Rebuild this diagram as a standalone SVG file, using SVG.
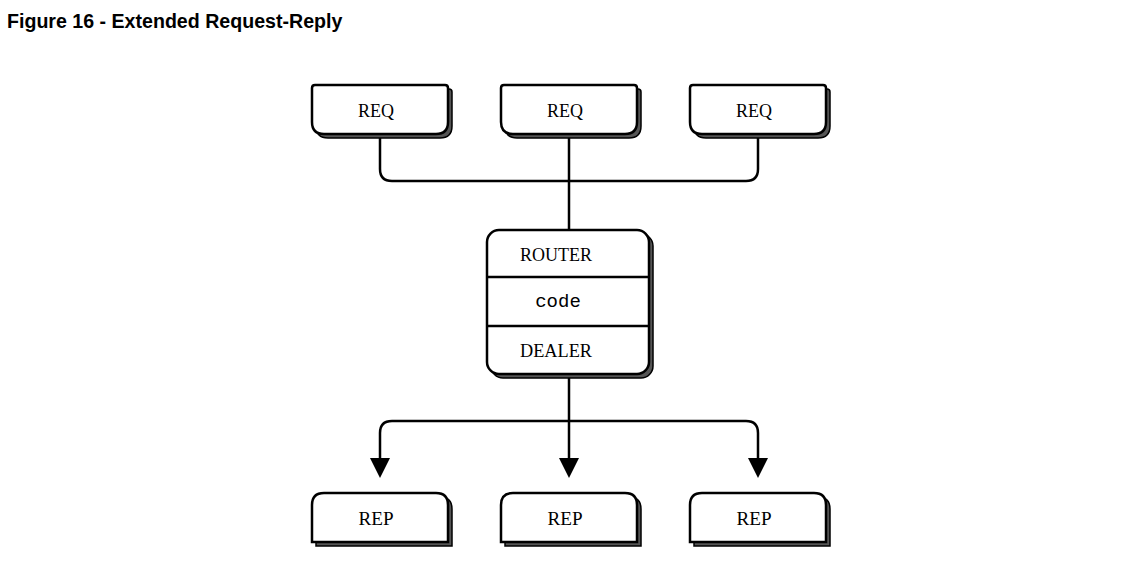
<svg xmlns="http://www.w3.org/2000/svg" width="1121" height="574" viewBox="0 0 1121 574">
<style>
.box{fill:#fff;stroke:#000;stroke-width:2.5}
.shadow{fill:#555;stroke:#000;stroke-width:1.5}
.lbl{font-family:"Liberation Serif","Times New Roman",serif;font-size:19px;fill:#000;text-anchor:middle}
.mono{font-family:"Liberation Mono","Courier New",monospace;font-size:19px;fill:#000;text-anchor:middle}
.line{fill:none;stroke:#000;stroke-width:2.5}
.title{font-family:"Liberation Sans",Arial,sans-serif;font-weight:bold;font-size:19.6px;fill:#000}
</style>
<defs>
<path id="reqShape" d="M312,88 Q312,85 315,85 H445 Q448,85 448,88 V122 Q448,134 436,134 H324 Q312,134 312,122 Z"/>
<path id="repShape" d="M312,505 Q312,493 324,493 H436 Q448,493 448,505 V542 H312 Z"/>
</defs>
<rect width="1121" height="574" fill="#fff"/>
<text class="title" x="7" y="28">Figure 16 - Extended Request-Reply</text>

<g id="connectors">
<path class="line" d="M380,134 V169 Q380,181 392,181 H746 Q758,181 758,169 V134"/>
<path class="line" d="M569,134 V230"/>
<path class="line" d="M569,374 V460"/>
<path class="line" d="M380,460 V433 Q380,421 392,421 H746 Q758,421 758,433 V460"/>
<polygon points="370,458 390,458 380,478" fill="#000"/>
<polygon points="559,458 579,458 569,478" fill="#000"/>
<polygon points="748,458 768,458 758,478" fill="#000"/>
</g>

<g id="req1">
<use href="#reqShape" class="shadow" transform="translate(4,4)"/>
<use href="#reqShape" class="box"/>
<text class="lbl" x="376" y="117" textLength="36" lengthAdjust="spacingAndGlyphs">REQ</text>
</g>
<g id="req2" transform="translate(189,0)">
<use href="#reqShape" class="shadow" transform="translate(4,4)"/>
<use href="#reqShape" class="box"/>
<text class="lbl" x="376" y="117" textLength="36" lengthAdjust="spacingAndGlyphs">REQ</text>
</g>
<g id="req3" transform="translate(378,0)">
<use href="#reqShape" class="shadow" transform="translate(4,4)"/>
<use href="#reqShape" class="box"/>
<text class="lbl" x="376" y="117" textLength="36" lengthAdjust="spacingAndGlyphs">REQ</text>
</g>

<g id="broker">
<rect class="shadow" x="491" y="234" width="162" height="144" rx="12"/>
<rect class="box" x="487" y="230" width="162" height="144" rx="12"/>
<line class="line" x1="487" y1="277" x2="649" y2="277"/>
<line class="line" x1="487" y1="326" x2="649" y2="326"/>
<text class="lbl" x="556" y="261" textLength="72" lengthAdjust="spacingAndGlyphs">ROUTER</text>
<text class="mono" x="558" y="307">code</text>
<text class="lbl" x="556" y="357" textLength="72" lengthAdjust="spacingAndGlyphs">DEALER</text>
</g>

<g id="rep1">
<use href="#repShape" class="shadow" transform="translate(4,4)"/>
<use href="#repShape" class="box"/>
<text class="lbl" x="376" y="525" textLength="35" lengthAdjust="spacingAndGlyphs">REP</text>
</g>
<g id="rep2" transform="translate(189,0)">
<use href="#repShape" class="shadow" transform="translate(4,4)"/>
<use href="#repShape" class="box"/>
<text class="lbl" x="376" y="525" textLength="35" lengthAdjust="spacingAndGlyphs">REP</text>
</g>
<g id="rep3" transform="translate(378,0)">
<use href="#repShape" class="shadow" transform="translate(4,4)"/>
<use href="#repShape" class="box"/>
<text class="lbl" x="376" y="525" textLength="35" lengthAdjust="spacingAndGlyphs">REP</text>
</g>
</svg>
